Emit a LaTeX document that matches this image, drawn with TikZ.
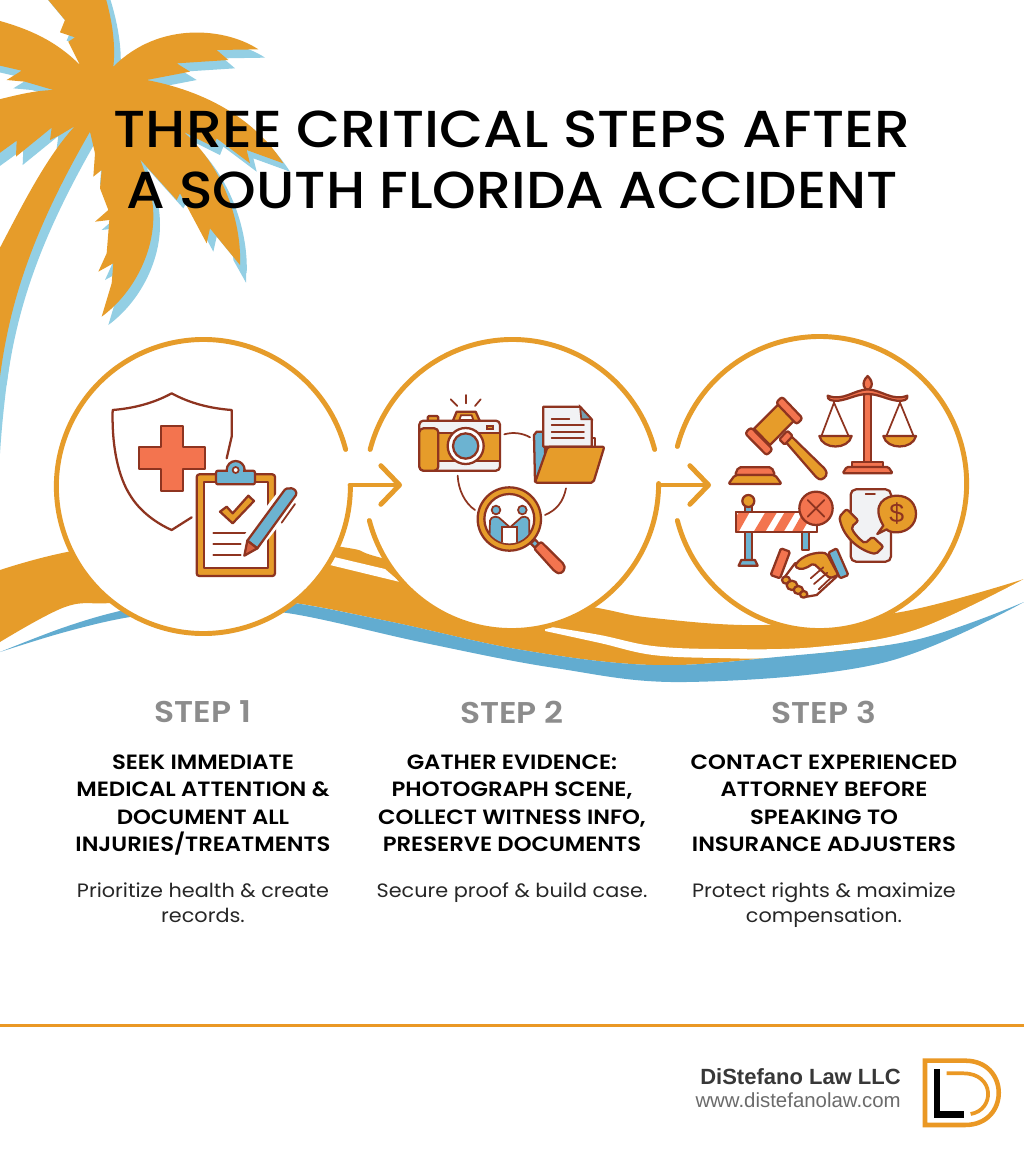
\documentclass[tikz,border=0pt]{standalone}
\usepackage{fontspec}
\usetikzlibrary{arrows.meta,positioning}
\newfontfamily\headfont{Poppins Medium}[FakeStretch=1.097]
\newfontfamily\headfontb{Poppins Medium}[FakeStretch=1.068]
\newfontfamily\capsfont{Poppins SemiBold}[FakeStretch=1.1]
\newfontfamily\bodyfont{Poppins}[FakeStretch=1.075]
\newfontfamily\footfont{Liberation Sans}
\definecolor{palmorange}{HTML}{E69C2A}
\definecolor{palmblue}{HTML}{93CFE4}
\definecolor{waveblue}{HTML}{62ACD0}
\definecolor{rustline}{HTML}{8E3420}
\definecolor{iconred}{HTML}{F3744F}
\definecolor{iconblue}{HTML}{6CB3D1}
\definecolor{stepgray}{HTML}{8C8C8C}
\definecolor{paleicon}{HTML}{F1F2F4}
\tikzset{
  zoomed/.style 2 args={shift={(#1,#2)},x=.25pt,y=-.25pt},
  stepdisc/.style={circle,fill=white,minimum size=220.5pt,inner sep=0pt,outer sep=0pt},
  ringline/.style={draw=palmorange,line width=3.7pt,line cap=round},
  flowarrow/.style={draw=palmorange,line width=3.7pt,line cap=round,-{Straight Barb[length=14pt,width=29pt,round]}},
  iconline/.style={draw=rustline,line width=1.7pt,line join=round,line cap=round},
  thinline/.style={draw=rustline,line width=1.3pt,line cap=round},
  titletext/.style={font=\headfont\fontsize{39}{46}\selectfont,text=black,align=center},
  titletextb/.style={font=\headfontb\fontsize{39}{46}\selectfont,text=black,align=center},
  steplabel/.style={font=\capsfont\fontsize{22.5}{24}\selectfont,text=stepgray},
  stephead/.style={font=\capsfont\fontsize{15.5}{20.6}\selectfont,text=black,align=center,anchor=north},
  stepbody/.style={font=\bodyfont\fontsize{14.5}{18.9}\selectfont,text=black!85,align=center,anchor=north},
}
\newcommand{\palmshape}{(340,200) .. controls (348,130) and (335,50) .. (310,-30) -- (120,-30) -- (195,60) -- (180,97) -- (225,112) -- (205,125) -- (240,195)
 .. controls (170,125) and (90,85) .. (-30,55) -- (-30,190) -- (65,212) -- (20,240) -- (75,245) -- (160,270)
 .. controls (100,272) and (50,285) .. (-30,305) -- (-30,480) -- (50,422) -- (48,470) -- (155,383) -- (150,420) -- (180,405) -- (225,378)
 .. controls (130,480) and (50,650) .. (-30,800) -- (-30,1150) -- (0,1130) .. controls (30,900) and (100,690) .. (270,395)
 -- (285,460) -- (280,530) -- (305,510) -- (300,565) -- (325,630) -- (285,665) -- (328,660) -- (320,760) -- (295,815) -- (340,790) -- (335,850) -- (305,950)
 .. controls (400,880) and (460,760) .. (460,650) .. controls (460,590) and (445,540) .. (420,478)
 -- (530,600) -- (540,580) -- (620,730) -- (630,685) -- (720,795)
 .. controls (725,680) and (680,510) .. (550,395) -- (640,440) -- (650,415) -- (750,490) -- (740,450) -- (850,490)
 .. controls (780,380) and (650,280) .. (440,240) -- (570,215) -- (530,190) -- (685,180) -- (650,150) -- (775,148)
 .. controls (680,85) and (480,60) .. (340,200) -- cycle}
\begin{document}
\begin{tikzpicture}[x=.75pt,y=-.75pt]
\useasboundingbox (0,0) rectangle (1024,1154);
\fill[white] (0,0) rectangle (1024,1154);

\begin{scope}[x=.25pt,y=-.25pt]
\clip (0,0) rectangle (3072,3462);
\fill[palmblue,shift={(20,25)}] \palmshape;
\fill[palmblue] (-5,1080) -- (30,1080) .. controls (15,1180) and (5,1280) .. (0,1360) -- (-5,1360) -- cycle;
\fill[palmblue] (690,600) .. controls (725,680) and (740,760) .. (738,848) -- (700,780) -- cycle;
\fill[palmorange] \palmshape;
\end{scope}

\fill[palmorange] plot[smooth,tension=.6] coordinates {(0,570) (67,552) (200,530) (342,547) (378,557) (500,590) (598,608) (653,618) (764,625) (901,612) (1024,579)}
 -- plot[smooth,tension=.6] coordinates {(1024,579) (915,640) (777,657) (653,665) (522,650) (392,622) (287,602) (200,598) (111,603) (65,607) (0,642)} -- cycle;
\fill[white] plot[smooth,tension=.6] coordinates {(545,626) (600,635) (653,646) (720,649) (816,647) (915,630) (1024,579)}
 -- (1024,604) -- plot[smooth,tension=.6] coordinates {(915,642) (784,657) (720,658) (653,655) (600,643) (545,631)} -- cycle;
\fill[white] (330,556) -- (385,569) -- (400,582) -- (330,565) -- cycle;
\fill[waveblue] plot[smooth,tension=.6] coordinates {(0,652) (65,627) (124,610) (200,596) (287,602) (392,622) (522,650) (653,665) (777,657) (915,640) (1024,602)}
 -- plot[smooth,tension=.6] coordinates {(1024,602) (882,663) (686,682) (555,668) (425,643) (287,613) (200,610) (130,617) (65,632) (0,652)} -- cycle;

\node[stepdisc] (disca) at (203,485) {};
\node[stepdisc] (discb) at (512,485) {};
\node[stepdisc] (discc) at (820,485) {};
\coordinate (tipa) at (402,485);
\coordinate (tipb) at (711,485);

\draw[ringline] (disca.14.6) arc[start angle=14.6,end angle=360,radius=110.25pt];
\draw[ringline] (discb.14.6) arc[start angle=14.6,end angle=165.4,radius=110.25pt];
\draw[ringline] (discb.194.6) arc[start angle=194.6,end angle=360,radius=110.25pt];
\draw[ringline] (discc.194.6) arc[start angle=194.6,end angle=525.4,radius=110.25pt];
\draw[flowarrow] (disca.east) -- (tipa);
\draw[flowarrow] (discb.east) -- (tipb);

\begin{scope}[zoomed={50}{330}]
\draw[iconline] (530,385) -- (545,320) -- (545,240) .. controls (480,235) and (420,220) .. (365,190) .. controls (310,220) and (250,235) .. (188,240) .. controls (185,350) and (205,440) .. (240,495) .. controls (270,545) and (320,580) .. (365,600) -- (425,562);
\draw[iconline,fill=iconred] (333,288) -- (400,288) -- (400,350) -- (465,350) -- (465,418) -- (400,418) -- (400,482) -- (333,482) -- (333,418) -- (268,418) -- (268,350) -- (333,350) -- cycle;
\draw[iconline,fill=palmorange,rounded corners=2pt] (440,433) rectangle (675,738);
\draw[iconline,fill=white] (462,455) rectangle (655,715);
\draw[iconline,fill=iconblue] (557,420) circle (27);
\draw[iconline,fill=iconblue,rounded corners=1.5pt] (498,422) rectangle (615,463);
\fill[iconblue] (535,418) rectangle (580,430);
\draw[thinline,fill=white] (557,420) circle (9);
\draw[iconline,fill=palmorange] (510,545) -- (530,530) -- (548,550) -- (595,497) -- (612,513) -- (548,580) -- cycle;
\draw[thinline] (490,610) -- (595,610);
\draw[thinline] (490,643) -- (572,643);
\draw[thinline] (490,675) -- (572,675);
\fill[white] (575,625) -- (700,465) -- (755,500) -- (625,665) -- (580,690) -- cycle;
\draw[iconline,fill=iconblue] (592,632) -- (700,485) .. controls (710,465) and (745,475) .. (738,495) -- (622,655) -- cycle;
\draw[iconline,fill=iconred!70!rustline] (592,632) -- (622,655) -- (583,677) -- cycle;
\draw[thinline] (695,578) -- (735,522);
\end{scope}

\begin{scope}[zoomed={360}{330}]
\draw[iconline,fill=palmorange,rounded corners=1pt] (203,258) rectangle (235,274);
\draw[iconline,fill=palmorange] (278,274) -- (290,245) -- (347,245) -- (360,274) -- cycle;
\draw[thinline,fill=white] (298,270) -- (303,256) -- (335,256) -- (340,270) -- cycle;
\draw[iconline,fill=paleicon,rounded corners=3pt] (178,272) rectangle (420,422);
\fill[palmorange] (180,310) rectangle (418,392);
\draw[thinline] (178,310) -- (420,310);
\draw[thinline] (178,392) -- (420,392);
\draw[iconline,fill=palmorange,rounded corners=3pt] (178,295) rectangle (235,422);
\draw[thinline,fill=palmorange] (380,288) rectangle (400,298);
\draw[iconline,fill=white] (317,348) circle (54);
\draw[iconline,fill=iconblue] (317,348) circle (38);
\draw[thinline] (272,208) -- (292,228);
\draw[thinline] (317,195) -- (317,220);
\draw[thinline] (362,208) -- (345,228);
\draw[iconline,fill=iconblue] (525,455) -- (522,315) -- (530,305) -- (552,305) -- (560,455) -- cycle;
\draw[iconline,fill=paleicon] (692,325) -- (706,325) -- (706,350) -- (692,350) -- cycle;
\draw[iconline,fill=paleicon] (550,350) -- (550,230) -- (660,230) -- (695,268) -- (695,350) -- cycle;
\draw[thinline,fill=iconblue!60!gray] (660,230) -- (695,268) -- (664,268) -- cycle;
\draw[thinline] (575,267) -- (628,267);
\draw[thinline] (575,286) -- (672,286);
\draw[thinline] (575,306) -- (672,306);
\draw[thinline] (575,325) -- (672,325);
\draw[iconline,fill=palmorange,rounded corners=1.5pt] (563,350) -- (733,350) -- (700,458) -- (525,458) -- cycle;
\draw[thinline] (433,313) .. controls (460,305) and (490,310) .. (510,322);
\draw[thinline] (293,437) .. controls (295,480) and (315,520) .. (345,540);
\draw[thinline] (618,475) .. controls (610,515) and (590,540) .. (555,555);
\draw[iconline,fill=iconblue] (512,640) -- (525,628) -- (540,645) -- (527,655) -- cycle;
\draw[iconline,fill=iconred,rounded corners=1.5pt] (522,655) -- (543,635) -- (612,703) -- (615,718) -- (600,732) -- (585,725) -- cycle;
\draw[iconline,fill=palmorange] (448,567) circle (95);
\draw[iconline,fill=white] (448,567) circle (75);
\begin{scope}
\clip (448,567) circle (73);
\draw[thinline,fill=iconblue] (388,640) -- (390,572) .. controls (392,558) and (415,555) .. (425,570) -- (450,592) -- (475,570) .. controls (485,555) and (505,558) .. (508,572) -- (508,640) -- cycle;
\draw[thinline,fill=white] (425,590) -- (472,590) -- (472,645) -- (425,645) -- cycle;
\end{scope}
\draw[thinline,fill=iconblue] (408,540) circle (13);
\draw[thinline,fill=iconblue] (487,540) circle (13);
\end{scope}

\begin{scope}[zoomed={670}{330}]
\draw[iconline,fill=palmorange,rounded corners=2pt] (342,330) -- (358,313) -- (468,420) .. controls (472,440) and (455,452) .. (440,443) -- cycle;
\draw[iconline,fill=iconred,rounded corners=1pt] (328,328) -- (352,302) -- (368,318) -- (344,344) -- cycle;
\draw[iconline,fill=palmorange] (252,296) -- (325,223) -- (372,272) -- (300,345) -- cycle;
\draw[iconline,fill=iconred,rounded corners=2pt] (225,310) -- (243,292) -- (308,358) -- (290,376) -- cycle;
\draw[iconline,fill=iconred,rounded corners=2pt] (318,218) -- (336,200) -- (398,265) -- (380,283) -- cycle;
\draw[iconline,fill=iconred,rounded corners=1.5pt] (195,435) -- (205,412) -- (305,412) -- (315,435) -- cycle;
\draw[iconline,fill=palmorange,rounded corners=1.5pt] (195,435) -- (315,435) -- (335,462) -- (175,462) -- cycle;
\draw[iconline,fill=iconred] (583,180) rectangle (603,397);
\draw[iconline,fill=iconred] (593,138) .. controls (570,160) and (585,180) .. (593,180) .. controls (601,180) and (616,160) .. (593,138) -- cycle;
\draw[iconline,fill=iconred] (473,197) .. controls (520,215) and (550,180) .. (593,178) .. controls (636,180) and (666,215) .. (712,197) .. controls (715,210) and (700,214) .. (680,212) .. controls (650,208) and (625,192) .. (593,192) .. controls (561,192) and (536,208) .. (506,212) .. controls (486,214) and (471,210) .. (473,197) -- cycle;
\draw[iconline,fill=iconred] (545,397) rectangle (640,411);
\draw[iconline,fill=iconred,rounded corners=1pt] (518,430) -- (530,411) -- (655,411) -- (668,430) -- cycle;
\draw[thinline] (455,316) -- (492,218) -- (535,316);
\draw[thinline] (650,316) -- (690,218) -- (730,316);
\draw[iconline,fill=palmorange] (448,318) -- (545,318) .. controls (535,360) and (458,360) .. (448,318) -- cycle;
\draw[iconline,fill=palmorange] (640,318) -- (738,318) .. controls (728,360) and (650,360) .. (640,318) -- cycle;
\draw[iconline,fill=iconblue] (226,607) rectangle (245,690);
\draw[iconline,fill=iconblue] (395,607) rectangle (418,660);
\draw[iconline,fill=iconblue] (226,528) rectangle (245,545);
\draw[iconline,fill=iconblue] (214,690) -- (255,690) -- (263,707) -- (206,707) -- cycle;
\draw[iconline,fill=palmorange] (235,513) circle (18);
\draw[iconline,fill=white] (198,545) rectangle (442,607);
\fill[iconred] (205,607) -- (198,607) -- (198,560) -- (208,545) -- (240,545) -- cycle (250,607) -- (285,607) -- (322,545) -- (287,545) -- cycle (308,607) -- (340,607) -- (377,545) -- (345,545) -- cycle (365,607) -- (395,607) -- (430,548) -- (400,545) -- cycle;
\draw[iconline] (198,545) rectangle (442,607);
\draw[iconline,fill=iconred] (438,535) circle (50);
\draw[thinline] (413,510) -- (463,560);
\draw[thinline] (463,510) -- (413,560);
\draw[iconline,fill=paleicon,rounded corners=4pt] (542,478) rectangle (663,695);
\draw[thinline] (587,493) -- (615,493);
\draw[iconline,fill=palmorange,rounded corners=1.5pt] (530,537) -- (508,560) .. controls (520,630) and (580,665) .. (618,672) -- (640,650) -- (608,620) -- (585,640) .. controls (565,625) and (548,605) .. (545,590) -- (565,572) -- cycle;
\draw[iconline,fill=palmorange] (622,612) -- (640,587) .. controls (600,520) and (650,497) .. (680,497) .. controls (720,497) and (738,525) .. (738,552) .. controls (738,585) and (710,607) .. (680,607) .. controls (665,607) and (655,604) .. (650,598) -- cycle;
\node[text=rustline,font=\footfont\fontsize{20}{20}\selectfont] (dollarsign) at (680,552) {\$};
\draw[iconline,fill=iconred,rounded corners=1pt] (333,655) -- (360,665) -- (330,745) -- (302,735) -- cycle;
\draw[iconline,fill=iconblue,rounded corners=1pt] (500,655) -- (535,735) -- (510,745) -- (475,668) -- cycle;
\draw[iconline,fill=white] (345,740) -- (375,700) -- (440,690) -- (500,740) -- (440,795) -- (410,800) -- (380,770) -- cycle;
\draw[iconline,fill=palmorange,rounded corners=1.5pt] (375,708) .. controls (395,675) and (440,665) .. (470,670) -- (505,735) -- (480,745) -- (430,700) .. controls (410,715) and (390,722) .. (375,708) -- cycle;
\draw[thinline] (422,745) -- (460,712);
\draw[thinline] (432,762) -- (472,728);
\draw[thinline] (446,778) -- (484,742);
\draw[iconline,fill=palmorange] (348,750) ellipse (12 and 11);
\draw[iconline,fill=palmorange] (366,766) ellipse (16 and 14);
\draw[iconline,fill=palmorange] (385,780) ellipse (14 and 12);
\draw[iconline,fill=palmorange] (401,793) ellipse (11 and 10);
\end{scope}

\node[titletext] (titlea) at (512,129) {THREE CRITICAL STEPS AFTER};
\node[titletextb] (titleb) at (512,190) {A SOUTH FLORIDA ACCIDENT};

\node[steplabel] (stepa) at (203,712) {STEP 1};
\node[steplabel] (stepb) at (512,712) {STEP 2};
\node[steplabel] (stepc) at (824,712) {STEP 3};

\node[stephead] (heada) at (203,750) {SEEK IMMEDIATE\\MEDICAL ATTENTION \&\\DOCUMENT ALL\\INJURIES/TREATMENTS};
\node[stephead] (headb) at (512,750) {GATHER EVIDENCE:\\PHOTOGRAPH SCENE,\\COLLECT WITNESS INFO,\\PRESERVE DOCUMENTS};
\node[stephead] (headc) at (824,750) {CONTACT EXPERIENCED\\ATTORNEY BEFORE\\SPEAKING TO\\INSURANCE ADJUSTERS};

\node[stepbody] (bodya) at (203,878) {Prioritize health \& create\\records.};
\node[stepbody] (bodyb) at (512,878) {Secure proof \& build case.};
\node[stepbody] (bodyc) at (824,878) {Protect rights \& maximize\\compensation.};

\fill[palmorange!85!orange] (0,1023.5) rectangle (1024,1026.5);

\node[anchor=east,inner sep=0pt,text=black!78,font=\footfont\bfseries\fontsize{16.5}{20}\selectfont] (firmname) at (901,1077) {DiStefano Law LLC};
\node[anchor=east,inner sep=0pt,text=black!58,font=\footfont\fontsize{15.3}{20}\selectfont] (firmsite) at (901,1100) {www.distefanolaw.com};

\begin{scope}[zoomed={680}{1010}]
\draw[draw=palmorange!85!orange,line width=3.4pt] (735,152) -- (855,152) .. controls (990,152) and (990,345) .. (855,345) -- (735,345) -- cycle;
\draw[draw=palmorange!85!orange,line width=2.8pt,line cap=butt] (800,190) -- (850,190) .. controls (945,190) and (945,300) .. (872,312);
\draw[draw=black,line width=4.8pt] (771,178) -- (771,313) -- (853,313);
\end{scope}
\end{tikzpicture}
\end{document}
